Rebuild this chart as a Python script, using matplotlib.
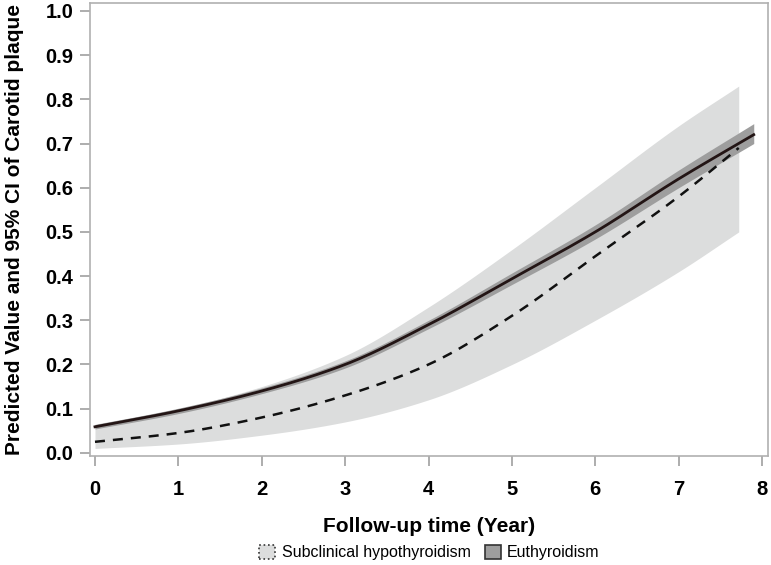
import numpy as np
import matplotlib
matplotlib.use("Agg")
import matplotlib.pyplot as plt
from matplotlib.patches import Patch

plt.rcParams['font.family'] = ['Liberation Sans', 'DejaVu Sans']

# Euthyroidism
eu_x = [0, 1, 2, 3, 4, 5, 6, 7, 7.9]
eu_y = [0.059, 0.095, 0.14, 0.20, 0.29, 0.394, 0.50, 0.62, 0.72]
eu_lo = [0.054, 0.089, 0.134, 0.192, 0.281, 0.381, 0.484, 0.600, 0.700]
eu_hi = [0.064, 0.101, 0.147, 0.208, 0.300, 0.407, 0.516, 0.640, 0.745]

# Subclinical hypothyroidism
sh_x = [0, 1, 2, 3, 4, 5, 6, 7, 7.72]
sh_y = [0.025, 0.045, 0.08, 0.13, 0.20, 0.31, 0.445, 0.58, 0.69]
sh_lo = [0.010, 0.020, 0.040, 0.070, 0.120, 0.200, 0.300, 0.410, 0.500]
sh_hi = [0.065, 0.100, 0.150, 0.220, 0.330, 0.460, 0.600, 0.740, 0.830]

xticks = [0, 1, 2, 3, 4, 5, 6, 7, 8]
yticks = [0.0, 0.1, 0.2, 0.3, 0.4, 0.5, 0.6, 0.7, 0.8, 0.9, 1.0]

def smooth(x, y, n=200):
    xs = np.linspace(x[0], x[-1], n)
    # monotone cubic (PCHIP-like) interpolation
    x = np.asarray(x, float); y = np.asarray(y, float)
    h = np.diff(x); d = np.diff(y) / h
    m = np.zeros_like(y)
    m[0] = d[0]; m[-1] = d[-1]
    for i in range(1, len(x) - 1):
        if d[i-1] * d[i] <= 0:
            m[i] = 0
        else:
            w1 = 2*h[i] + h[i-1]; w2 = h[i] + 2*h[i-1]
            m[i] = (w1 + w2) / (w1/d[i-1] + w2/d[i])
    idx = np.clip(np.searchsorted(x, xs) - 1, 0, len(x) - 2)
    t = (xs - x[idx]) / h[idx]
    h00 = 2*t**3 - 3*t**2 + 1; h10 = t**3 - 2*t**2 + t
    h01 = -2*t**3 + 3*t**2; h11 = t**3 - t**2
    ys = h00*y[idx] + h10*h[idx]*m[idx] + h01*y[idx+1] + h11*h[idx]*m[idx+1]
    return xs, ys

fig = plt.figure(figsize=(7.71, 5.65), dpi=100)
ax = fig.add_axes([0.1167, 0.193, 0.996 - 0.1167, 0.9947 - 0.193])

xs, lo = smooth(sh_x, sh_lo); _, hi = smooth(sh_x, sh_hi)
ax.fill_between(xs, lo, hi, color='#dcdddd', lw=0, zorder=1)
xs2, lo2 = smooth(eu_x, eu_lo); _, hi2 = smooth(eu_x, eu_hi)
ax.fill_between(xs2, lo2, hi2, color='#9e9e9e', lw=0, zorder=2)
xs, ys = smooth(sh_x, sh_y)
ax.plot(xs, ys, color='#111111', lw=1.8, ls=(0, (4, 3.2)), zorder=3)
xs2, ys2 = smooth(eu_x, eu_y)
ax.plot(xs2, ys2, color='#231515', lw=2.0, zorder=4)

ax.set_xlim(-0.06, 8.07)
ax.set_ylim(-0.007, 1.018)
ax.set_xticks(xticks)
ax.set_xticklabels([str(v) for v in xticks])
ax.set_yticks(yticks)
ax.set_yticklabels([f"{v:.1f}" for v in yticks])
for s in ax.spines.values():
    s.set_color('#b0b0b0')
    s.set_linewidth(1.2)
ax.tick_params(axis='both', colors='#a0a0a0', length=7, width=1.2, labelcolor='black',
               labelsize=14.5)
for lab in ax.get_xticklabels() + ax.get_yticklabels():
    lab.set_fontweight('bold')
ax.tick_params(axis='x', pad=10)
ax.tick_params(axis='y', pad=5)
ax.set_xlabel('Follow-up time (Year)', fontsize=15, fontweight='bold', labelpad=13)
ax.set_ylabel('Predicted Value and 95% CI of Carotid plaque', fontsize=15,
              fontweight='bold', labelpad=15)

handles = [Patch(facecolor='#dcdddd', edgecolor='#333333', linestyle=':', lw=1.2,
                 label='Subclinical hypothyroidism'),
           Patch(facecolor='#9e9e9e', edgecolor='#333333', lw=1.2, label='Euthyroidism')]
fig.legend(handles=handles, loc='center', bbox_to_anchor=(0.557, 0.022), ncol=2,
           frameon=False, fontsize=11.5, handlelength=1.0, handleheight=1.0,
           handletextpad=0.4, columnspacing=0.9, borderpad=0.1)

fig.savefig('out.png', dpi=100)
